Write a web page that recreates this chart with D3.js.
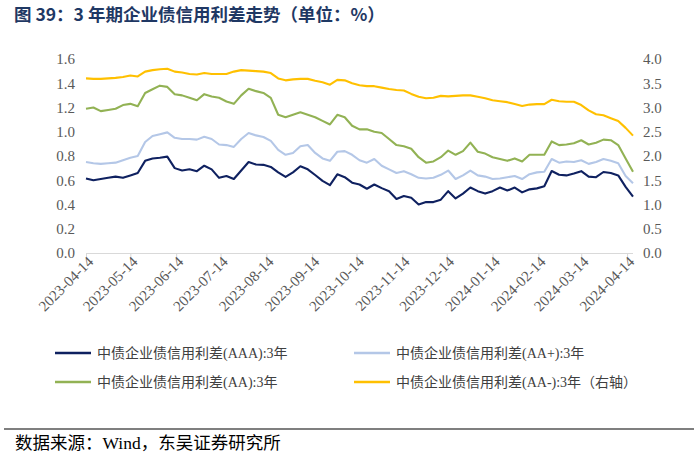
<!DOCTYPE html>
<html><head><meta charset="utf-8">
<script src="https://cdn.jsdelivr.net/npm/d3@7"></script>
<style>body{margin:0;background:#fff}svg{display:block}</style>
</head><body>
<svg id="c" width="700" height="455"></svg>
<script>
const dates = ["2023-04-14","2023-04-19","2023-04-24","2023-04-29","2023-05-04","2023-05-09","2023-05-14","2023-05-19","2023-05-24","2023-05-29",
"2023-06-03","2023-06-08","2023-06-13","2023-06-18","2023-06-23","2023-06-28","2023-07-03","2023-07-08","2023-07-13","2023-07-18",
"2023-07-23","2023-07-28","2023-08-02","2023-08-07","2023-08-12","2023-08-17","2023-08-22","2023-08-27","2023-09-01","2023-09-06",
"2023-09-11","2023-09-16","2023-09-21","2023-09-26","2023-10-01","2023-10-06","2023-10-11","2023-10-16","2023-10-21","2023-10-26",
"2023-10-31","2023-11-05","2023-11-10","2023-11-15","2023-11-20","2023-11-25","2023-11-30","2023-12-05","2023-12-10","2023-12-15",
"2023-12-20","2023-12-25","2023-12-30","2024-01-04","2024-01-09","2024-01-14","2024-01-19","2024-01-24","2024-01-29","2024-02-03",
"2024-02-08","2024-02-13","2024-02-18","2024-02-23","2024-02-28","2024-03-04","2024-03-09","2024-03-14","2024-03-19","2024-03-24",
"2024-03-29","2024-04-03","2024-04-08","2024-04-13","2024-04-18"];

const aaa = [0.615,0.60,0.61,0.62,0.63,0.62,0.64,0.66,0.76,0.78,
0.785,0.795,0.70,0.68,0.69,0.675,0.72,0.69,0.62,0.635,
0.61,0.68,0.75,0.73,0.727,0.71,0.665,0.627,0.665,0.715,
0.69,0.643,0.595,0.56,0.649,0.625,0.58,0.565,0.53,0.565,
0.535,0.51,0.445,0.47,0.455,0.40,0.42,0.42,0.44,0.51,
0.45,0.49,0.54,0.51,0.49,0.51,0.54,0.515,0.54,0.50,
0.525,0.533,0.55,0.676,0.645,0.64,0.655,0.675,0.63,0.625,
0.668,0.66,0.64,0.545,0.465];

const aaPlus = [0.75,0.74,0.735,0.74,0.745,0.765,0.785,0.80,0.915,0.965,
0.98,0.995,0.95,0.94,0.94,0.935,0.958,0.94,0.895,0.89,
0.875,0.94,0.99,0.97,0.957,0.925,0.85,0.81,0.825,0.88,
0.89,0.825,0.78,0.76,0.835,0.84,0.81,0.765,0.745,0.775,
0.72,0.69,0.66,0.675,0.65,0.62,0.615,0.62,0.645,0.68,
0.61,0.64,0.68,0.64,0.63,0.61,0.615,0.625,0.635,0.61,
0.65,0.665,0.67,0.775,0.745,0.755,0.75,0.765,0.735,0.75,
0.775,0.76,0.74,0.635,0.575];

const aa = [1.19,1.20,1.17,1.18,1.19,1.22,1.23,1.21,1.32,1.35,
1.38,1.37,1.31,1.30,1.28,1.26,1.31,1.29,1.28,1.25,
1.23,1.30,1.355,1.335,1.32,1.28,1.14,1.12,1.14,1.16,
1.14,1.12,1.09,1.06,1.14,1.12,1.05,1.02,1.02,1.00,
0.99,0.94,0.89,0.88,0.86,0.79,0.745,0.755,0.79,0.845,
0.81,0.84,0.91,0.835,0.82,0.79,0.775,0.76,0.78,0.755,
0.81,0.81,0.81,0.92,0.89,0.895,0.905,0.93,0.895,0.91,
0.935,0.93,0.89,0.78,0.67];

const aaMinus = [3.60,3.59,3.59,3.60,3.61,3.63,3.66,3.64,3.74,3.77,
3.79,3.80,3.74,3.72,3.69,3.68,3.71,3.69,3.69,3.69,
3.74,3.77,3.76,3.75,3.74,3.71,3.60,3.56,3.58,3.59,
3.59,3.55,3.52,3.47,3.57,3.56,3.50,3.46,3.44,3.44,
3.41,3.38,3.36,3.35,3.28,3.22,3.19,3.20,3.24,3.23,
3.24,3.25,3.25,3.22,3.19,3.15,3.13,3.11,3.07,3.03,
3.06,3.07,3.07,3.16,3.13,3.12,3.12,3.05,2.94,2.86,
2.84,2.78,2.72,2.58,2.42];

const xTickLabels = ["2023-04-14","2023-05-14","2023-06-14","2023-07-14","2023-08-14","2023-09-14","2023-10-14",
"2023-11-14","2023-12-14","2024-01-14","2024-02-14","2024-03-14","2024-04-14"];
const leftTicks = [0,0.2,0.4,0.6,0.8,1.0,1.2,1.4,1.6];
const rightTicks = [0,0.5,1.0,1.5,2.0,2.5,3.0,3.5,4.0];

const seriesNames = ["中债企业债信用利差(AAA):3年","中债企业债信用利差(AA+):3年","中债企业债信用利差(AA):3年","中债企业债信用利差(AA-):3年（右轴）"];
const title = "图 39：3 年期企业债信用利差走势（单位：%）";
const source = "数据来源：Wind，东吴证券研究所";

const parse = d3.timeParse("%Y-%m-%d");
const dts = dates.map(parse);
const svg = d3.select("#c");
const latin = "'Liberation Serif','Times New Roman',serif";
const mixed = "'Liberation Serif','Noto Sans CJK SC',serif";

const x = d3.scaleTime().domain([dts[0], dts[dts.length-1]]).range([86, 633]);
const yL = d3.scaleLinear().domain([0,1.6]).range([253,59]);
const yR = d3.scaleLinear().domain([0,4]).range([253,59]);

// title
svg.append("text").attr("x",14).attr("y",21).text(title)
  .attr("font-family","'Noto Sans CJK SC',sans-serif").attr("font-weight",700)
  .attr("font-size",17.5).attr("fill","#1F3864");

// x axis
const xAxis = d3.axisBottom(x).tickValues(xTickLabels.map(parse)).tickSize(4).tickFormat(d3.timeFormat("%Y-%m-%d"));
const gx = svg.append("g").attr("transform","translate(0,253)").call(xAxis);
gx.select(".domain").attr("stroke","#D9D9D9").attr("d","M86,0.5H633");
gx.selectAll(".tick line").attr("stroke","#D9D9D9");
gx.selectAll(".tick text").attr("font-family",latin).attr("font-size",15).attr("fill","#595959")
  .attr("text-anchor","end").attr("transform","translate(4,6) rotate(-45)").attr("dy","0.35em").attr("y",0).attr("x",0);

// left axis
const gl = svg.append("g").attr("transform","translate(86,0)")
  .call(d3.axisLeft(yL).tickValues(leftTicks).tickFormat(d3.format(".1f")).tickSize(0).tickPadding(11));
gl.select(".domain").remove();
gl.selectAll("text").attr("font-family",latin).attr("font-size",15).attr("fill","#595959");

// right axis
const gr = svg.append("g").attr("transform","translate(633,0)")
  .call(d3.axisRight(yR).tickValues(rightTicks).tickFormat(d3.format(".1f")).tickSize(0).tickPadding(10));
gr.select(".domain").remove();
gr.selectAll("text").attr("font-family",latin).attr("font-size",15).attr("fill","#595959");

const colors = ["#0F2160","#B4C7E7","#92B254","#FFC000"];
const data = [
  {vals: aaPlus, y: yL, c: colors[1]},
  {vals: aa, y: yL, c: colors[2]},
  {vals: aaMinus, y: yR, c: colors[3]},
  {vals: aaa, y: yL, c: colors[0]}
];
data.forEach(s => {
  const line = d3.line().x((d,i)=>x(dts[i])).y(d=>s.y(d));
  svg.append("path").datum(s.vals).attr("d",line).attr("fill","none")
    .attr("stroke",s.c).attr("stroke-width",2.1).attr("stroke-linejoin","round");
});

// legend
const legPos = [[55,353],[354,353],[55,382],[354,382]];
seriesNames.forEach((n,i)=>{
  const [lx,ly] = legPos[i];
  svg.append("line").attr("x1",lx).attr("x2",lx+36).attr("y1",ly).attr("y2",ly)
    .attr("stroke",colors[i]).attr("stroke-width",2.6);
  svg.append("text").attr("x",lx+42).attr("y",ly).attr("dy","0.35em").text(n)
    .attr("font-family",mixed).attr("font-size",14).attr("fill","#404040");
});

// source
svg.append("line").attr("x1",4).attr("x2",694).attr("y1",429).attr("y2",429).attr("stroke","#000").attr("stroke-width",1.2);
svg.append("text").attr("x",15).attr("y",443).attr("dy","0.35em").text(source)
  .attr("font-family",mixed).attr("font-size",17.5).attr("fill","#000");
</script>
</body></html>
